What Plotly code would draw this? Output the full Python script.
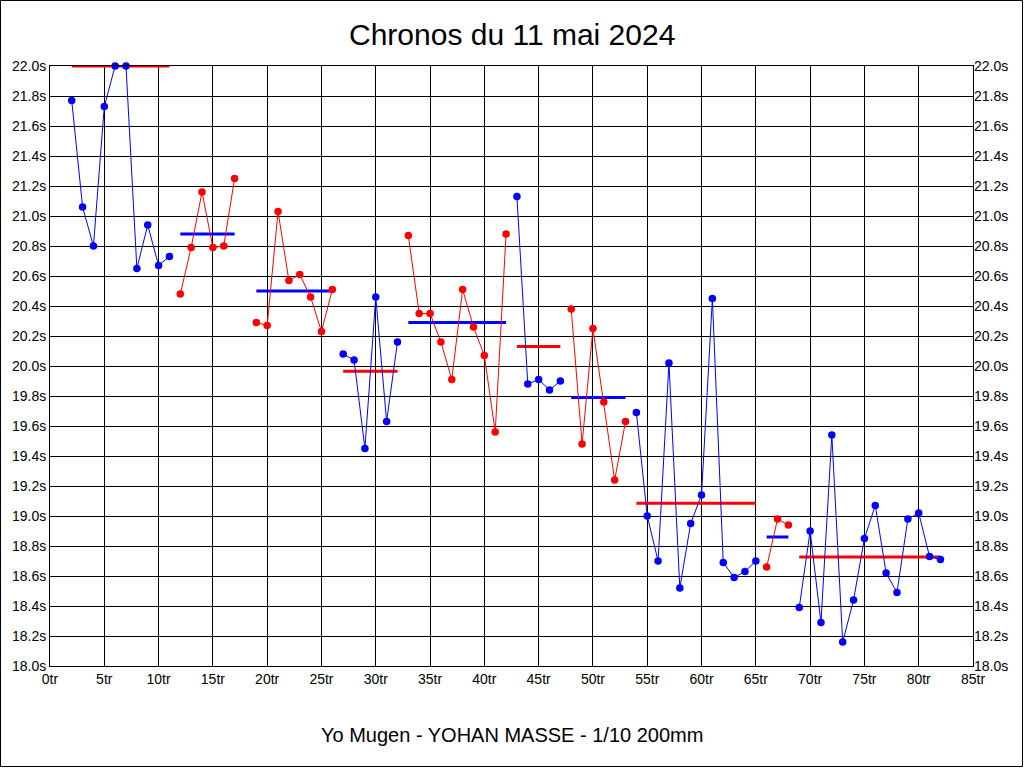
import plotly.graph_objects as go

# ---- data ----
stint_start_laps = [2, 12, 19, 27, 33, 43, 48, 54, 66, 69]
stint_times = [
    [21.77, 21.06, 20.80, 21.73, 22.00, 22.00, 20.65, 20.94, 20.67, 20.73],
    [20.48, 20.79, 21.16, 20.79, 20.80, 21.25],
    [20.29, 20.27, 21.03, 20.57, 20.61, 20.46, 20.23, 20.51],
    [20.08, 20.04, 19.45, 20.46, 19.63, 20.16],
    [20.87, 20.35, 20.35, 20.16, 19.91, 20.51, 20.26, 20.07, 19.56, 20.88],
    [21.13, 19.88, 19.91, 19.84, 19.90],
    [20.38, 19.48, 20.25, 19.76, 19.24, 19.63],
    [19.69, 19.00, 18.70, 20.02, 18.52, 18.95, 19.14, 20.45, 18.69, 18.59, 18.63, 18.70],
    [18.66, 18.98, 18.94],
    [18.39, 18.90, 18.29, 19.54, 18.16, 18.44, 18.85, 19.07, 18.62, 18.49, 18.98, 19.02, 18.73, 18.71],
]
stint_averages = [22.00, 20.88, 20.50, 19.965, 20.29, 20.13, 19.79, 19.085, 18.86, 18.727]
stint_colors = ["blue", "red", "red", "blue", "red", "blue", "red", "blue", "red", "blue"]

title_text = "Chronos du 11 mai 2024"
subtitle_text = "Yo Mugen - YOHAN MASSE - 1/10 200mm"
x_ticks = list(range(0, 90, 5))
x_tick_labels = [f"{v}tr" for v in x_ticks]
y_ticks = [round(18.0 + 0.2 * i, 1) for i in range(21)]
y_tick_labels = [f"{v:.1f}s" for v in y_ticks]

COL = {"blue": "#0000FF", "red": "#FF0000"}
OPP = {"blue": "red", "red": "blue"}
FONT = "Liberation Sans, Arial, sans-serif"

fig = go.Figure()
for start, times, avg, c in zip(stint_start_laps, stint_times, stint_averages, stint_colors):
    laps = list(range(start, start + len(times)))
    fig.add_trace(go.Scatter(
        x=[laps[0], laps[-1]], y=[avg, avg], mode="lines",
        line=dict(color=COL[OPP[c]], width=3), cliponaxis=False,
        hoverinfo="skip", showlegend=False))
    fig.add_trace(go.Scatter(
        x=laps, y=times, mode="lines+markers",
        line=dict(color=COL[c], width=1),
        marker=dict(color=COL[c], size=7.5, symbol="circle"),
        cliponaxis=False, showlegend=False))

# invisible trace so the right axis is drawn
fig.add_trace(go.Scatter(x=[0], y=[18], yaxis="y2", mode="markers",
                         marker=dict(opacity=0), hoverinfo="skip", showlegend=False))

axis_common = dict(showgrid=True, gridcolor="black", gridwidth=1, zeroline=False,
                   showline=True, linecolor="black", linewidth=1, ticks="",
                   tickfont=dict(family=FONT, size=14, color="black"))

fig.update_layout(
    width=1024, height=768,
    margin=dict(l=50, r=51, t=66, b=102),
    paper_bgcolor="white", plot_bgcolor="white",
    font=dict(family=FONT, color="black"),
    xaxis=dict(range=[0, 85], tickvals=x_ticks, ticktext=x_tick_labels, mirror=True, **axis_common),
    yaxis=dict(range=[18, 22], tickvals=y_ticks, ticktext=y_tick_labels, mirror=True, **axis_common),
    yaxis2=dict(range=[18, 22], tickvals=y_ticks, ticktext=y_tick_labels, overlaying="y",
                side="right", showgrid=False, zeroline=False, showline=False, ticks="",
                tickfont=dict(family=FONT, size=14, color="black")),
    hovermode=False,
    annotations=[
        dict(text=title_text, x=0.5, xref="paper", y=1.0533, yref="paper",
             xanchor="center", yanchor="middle", showarrow=False,
             font=dict(family=FONT, size=30, color="black")),
        dict(text=subtitle_text, x=0.5, xref="paper", y=-0.115, yref="paper",
             xanchor="center", yanchor="middle", showarrow=False,
             font=dict(family=FONT, size=20, color="black")),
    ],
    shapes=[dict(type="rect", xref="paper", yref="paper",
                 x0=(0.5 - 50) / 923, x1=(1022.5 - 50) / 923,
                 y0=(666 - 766.5) / 600, y1=(666 - 0.5) / 600,
                 line=dict(color="black", width=1), layer="above")],
)

fig.write_html("out.html", config={"displayModeBar": False})
with open("out.html", "r", encoding="utf-8") as f:
    html = f.read()
html = html.replace("<head>", "<head><style>html,body{margin:0;padding:0;overflow:hidden;}</style>", 1)
with open("out.html", "w", encoding="utf-8") as f:
    f.write(html)
